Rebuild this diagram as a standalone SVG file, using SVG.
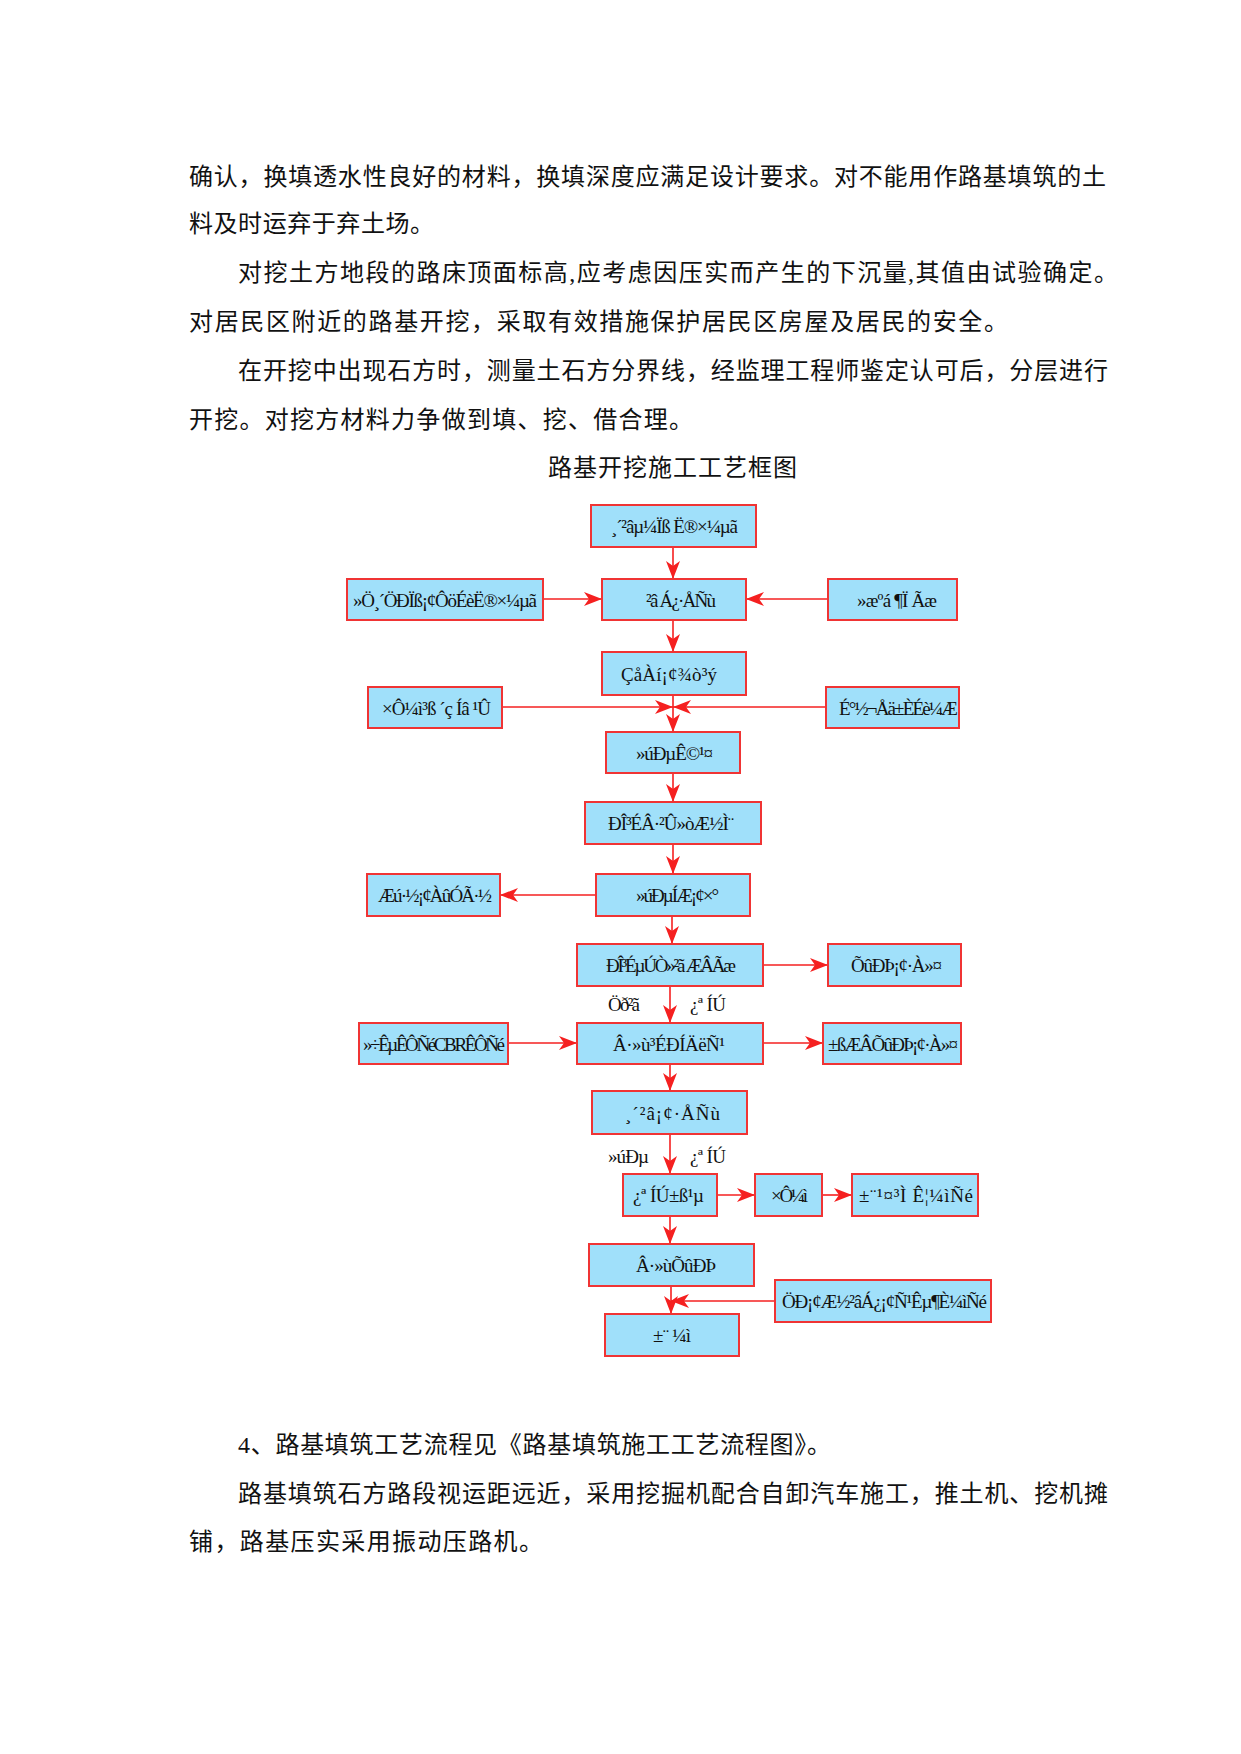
<svg xmlns="http://www.w3.org/2000/svg" width="1241" height="1754" viewBox="0 0 1241 1754">
<style>
.body{font-family:"Liberation Serif","Noto Sans CJK SC",serif;font-size:24px;fill:#111}
.box rect{fill:#A0E0FA;stroke:#F03434;stroke-width:2}
.box text,.lbl{font-family:"Liberation Serif",serif;font-size:19px;fill:#111}
.conn line{stroke:#F52020;stroke-width:1.6;fill:none}
</style>
<defs>
<marker id="ah" markerUnits="userSpaceOnUse" markerWidth="20" markerHeight="16" refX="18" refY="7" orient="auto">
<path d="M0,0 L18,7 L0,14 L5,7 Z" fill="#F52020"/>
</marker>
</defs>
<rect width="1241" height="1754" fill="#fff"/>
<g id="text-top">
<text class="body" x="189" y="185" textLength="917" lengthAdjust="spacing">确认，换填透水性良好的材料，换填深度应满足设计要求。对不能用作路基填筑的土</text>
<text class="body" x="189" y="232" textLength="245" lengthAdjust="spacing">料及时运弃于弃土场。</text>
<text class="body" x="238" y="281" textLength="880" lengthAdjust="spacing">对挖土方地段的路床顶面标高,应考虑因压实而产生的下沉量,其值由试验确定。</text>
<text class="body" x="189" y="330" textLength="819" lengthAdjust="spacing">对居民区附近的路基开挖，采取有效措施保护居民区房屋及居民的安全。</text>
<text class="body" x="238" y="379" textLength="870" lengthAdjust="spacing">在开挖中出现石方时，测量土石方分界线，经监理工程师鉴定认可后，分层进行</text>
<text class="body" x="189" y="428" textLength="504" lengthAdjust="spacing">开挖。对挖方材料力争做到填、挖、借合理。</text>
<text class="body" x="548" y="476" textLength="249" lengthAdjust="spacing">路基开挖施工工艺框图</text>
</g>
<g id="connectors" class="conn">
<line x1="673" y1="547" x2="673" y2="579" marker-end="url(#ah)"/>
<line x1="543" y1="599" x2="602" y2="599" marker-end="url(#ah)"/>
<line x1="828" y1="599" x2="746" y2="599" marker-end="url(#ah)"/>
<line x1="673" y1="620" x2="673" y2="652" marker-end="url(#ah)"/>
<line x1="673" y1="695" x2="673" y2="732" marker-end="url(#ah)"/>
<line x1="502" y1="707" x2="673" y2="707" marker-end="url(#ah)"/>
<line x1="826" y1="707" x2="673" y2="707" marker-end="url(#ah)"/>
<line x1="673" y1="773" x2="673" y2="802" marker-end="url(#ah)"/>
<line x1="673" y1="844" x2="673" y2="874" marker-end="url(#ah)"/>
<line x1="596" y1="895" x2="500" y2="895" marker-end="url(#ah)"/>
<line x1="672" y1="916" x2="672" y2="944" marker-end="url(#ah)"/>
<line x1="763" y1="965" x2="828" y2="965" marker-end="url(#ah)"/>
<line x1="670" y1="986" x2="670" y2="1023" marker-end="url(#ah)"/>
<line x1="508" y1="1043" x2="577" y2="1043" marker-end="url(#ah)"/>
<line x1="763" y1="1043" x2="823" y2="1043" marker-end="url(#ah)"/>
<line x1="670" y1="1064" x2="670" y2="1091" marker-end="url(#ah)"/>
<line x1="670" y1="1134" x2="670" y2="1174" marker-end="url(#ah)"/>
<line x1="717" y1="1195" x2="755" y2="1195" marker-end="url(#ah)"/>
<line x1="822" y1="1195" x2="852" y2="1195" marker-end="url(#ah)"/>
<line x1="670" y1="1216" x2="670" y2="1244" marker-end="url(#ah)"/>
<line x1="671" y1="1286" x2="671" y2="1314" marker-end="url(#ah)"/>
<line x1="775" y1="1301" x2="671" y2="1301" marker-end="url(#ah)"/>
</g>
<g id="labels">
<text class="lbl" x="608" y="1011" textLength="32" lengthAdjust="spacing">Öð²ã</text>
<text class="lbl" x="690" y="1011" textLength="36" lengthAdjust="spacing">¿ª ÍÚ</text>
<text class="lbl" x="608" y="1163" textLength="41" lengthAdjust="spacing">»úÐµ</text>
<text class="lbl" x="690" y="1163" textLength="36" lengthAdjust="spacing">¿ª ÍÚ</text>
</g>
<g id="n1" class="box"><rect x="591" y="505" width="165" height="42"/><text x="611" y="533" textLength="127" lengthAdjust="spacing">¸´²âµ¼Ïß Ë®×¼µã</text></g>
<g id="n2l" class="box"><rect x="347" y="579" width="196" height="41"/><text x="353" y="606.5" textLength="184" lengthAdjust="spacing">»Ö¸´ÖÐÏß¡¢ÔöÉèË®×¼µã</text></g>
<g id="n2c" class="box"><rect x="602" y="579" width="144" height="41"/><text x="646" y="606.5" textLength="70" lengthAdjust="spacing">²â Á¿·ÅÑù</text></g>
<g id="n2r" class="box"><rect x="828" y="579" width="129" height="41"/><text x="857" y="606.5" textLength="80" lengthAdjust="spacing">»æºá ¶Ï Ãæ</text></g>
<g id="n3" class="box"><rect x="602" y="652" width="144" height="43"/><text x="621" y="680.5" textLength="96" lengthAdjust="spacing">ÇåÀí¡¢¾ò³ý</text></g>
<g id="n4l" class="box"><rect x="368" y="687" width="134" height="41"/><text x="382" y="714.5" textLength="109" lengthAdjust="spacing">×Ô¼ì³ß ´ç Íâ ¹Û</text></g>
<g id="n4r" class="box"><rect x="826" y="687" width="133" height="41"/><text x="839" y="714.5" textLength="119" lengthAdjust="spacing">É°½¬Åä±ÈÉè¼Æ</text></g>
<g id="n5" class="box"><rect x="606" y="732" width="134" height="41"/><text x="636" y="759.5" textLength="77" lengthAdjust="spacing">»úÐµÊ©¹¤</text></g>
<g id="n6" class="box"><rect x="585" y="802" width="176" height="42"/><text x="608" y="830" textLength="126" lengthAdjust="spacing">ÐÎ³ÉÂ·²Û»òÆ½Ì¨</text></g>
<g id="n7c" class="box"><rect x="596" y="874" width="154" height="42"/><text x="636" y="902" textLength="83" lengthAdjust="spacing">»úÐµÍÆ¡¢×°</text></g>
<g id="n7l" class="box"><rect x="367" y="874" width="133" height="42"/><text x="378" y="902" textLength="114" lengthAdjust="spacing">Æú·½¡¢ÀûÓÃ·½</text></g>
<g id="n8c" class="box"><rect x="577" y="944" width="186" height="42"/><text x="606" y="972" textLength="130" lengthAdjust="spacing">ÐÎ³ÉµÚÒ»²ã ÆÂÃæ</text></g>
<g id="n8r" class="box"><rect x="828" y="944" width="133" height="42"/><text x="851" y="972" textLength="91" lengthAdjust="spacing">ÕûÐÞ¡¢·À»¤</text></g>
<g id="n9l" class="box"><rect x="359" y="1023" width="149" height="41"/><text x="363" y="1050.5" textLength="142" lengthAdjust="spacing">»÷ÊµÊÔÑéCBRÊÔÑé</text></g>
<g id="n9c" class="box"><rect x="577" y="1023" width="186" height="41"/><text x="613" y="1050.5" textLength="112" lengthAdjust="spacing">Â·»ù³ÉÐÍÄëÑ¹</text></g>
<g id="n9r" class="box"><rect x="823" y="1023" width="138" height="41"/><text x="828" y="1050.5" textLength="130" lengthAdjust="spacing">±ßÆÂÕûÐÞ¡¢·À»¤</text></g>
<g id="n10" class="box"><rect x="592" y="1091" width="155" height="43"/><text x="625" y="1119.5" textLength="95" lengthAdjust="spacing">¸´²â¡¢·ÅÑù</text></g>
<g id="n11a" class="box"><rect x="623" y="1174" width="94" height="42"/><text x="633" y="1202" textLength="71" lengthAdjust="spacing">¿ª ÍÚ±ß¹µ</text></g>
<g id="n11b" class="box"><rect x="755" y="1174" width="67" height="42"/><text x="771" y="1202" textLength="37" lengthAdjust="spacing">×Ô¼ì</text></g>
<g id="n11c" class="box"><rect x="852" y="1174" width="126" height="42"/><text x="859" y="1202" textLength="114" lengthAdjust="spacing">±¨¹¤³Ì Ê¦¼ìÑé</text></g>
<g id="n12" class="box"><rect x="589" y="1244" width="165" height="42"/><text x="636" y="1272" textLength="80" lengthAdjust="spacing">Â·»ùÕûÐÞ</text></g>
<g id="n12r" class="box"><rect x="775" y="1280" width="216" height="42"/><text x="782" y="1308" textLength="205" lengthAdjust="spacing">ÖÐ¡¢Æ½²âÁ¿¡¢Ñ¹Êµ¶È¼ìÑé</text></g>
<g id="n13" class="box"><rect x="605" y="1314" width="134" height="42"/><text x="653" y="1342" textLength="38" lengthAdjust="spacing">±¨ ¼ì</text></g>
<g id="text-bottom">
<text class="body" x="238" y="1453" textLength="593" lengthAdjust="spacing">4、路基填筑工艺流程见《路基填筑施工工艺流程图》。</text>
<text class="body" x="238" y="1502" textLength="870" lengthAdjust="spacing">路基填筑石方路段视运距远近，采用挖掘机配合自卸汽车施工，推土机、挖机摊</text>
<text class="body" x="189" y="1550" textLength="354" lengthAdjust="spacing">铺，路基压实采用振动压路机。</text>
</g>
</svg>
